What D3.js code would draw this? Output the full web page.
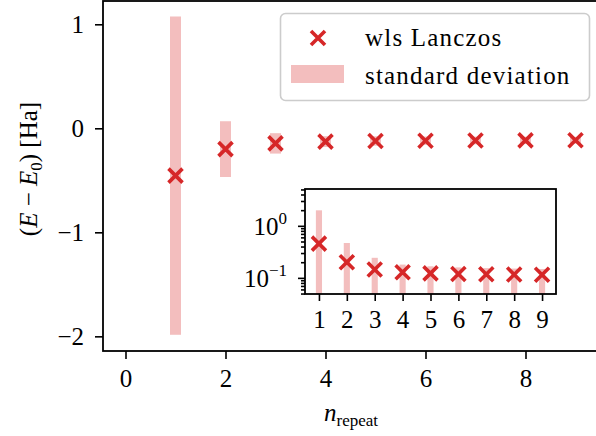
<!DOCTYPE html>
<html>
<head>
<meta charset="utf-8">
<script src="https://cdn.jsdelivr.net/npm/d3@7"></script>
<style>
  body { margin: 0; background: #fff; }
  text { font-family: "Liberation Serif", "DejaVu Serif", serif; fill: #000; }
</style>
</head>
<body>
<div id="chart"></div>
<script>
// values
const nRepeat = [1, 2, 3, 4, 5, 6, 7, 8, 9];
const energy = [-0.455, -0.200, -0.145, -0.128, -0.122, -0.119, -0.117, -0.116, -0.115];
const stdDev = [1.53, 0.268, 0.098, 0.052, 0.045, 0.040, 0.037, 0.035, 0.033];
const xTicks = [0, 2, 4, 6, 8];
const yTicks = [1, 0, -1, -2];
const insetXTicks = [1, 2, 3, 4, 5, 6, 7, 8, 9];
const insetYTicks = [1, 0.1];
const insetYLabels = ["0", "−1"];
const legendLabels = ["wls Lanczos", "standard deviation"];

const red = "#d62728";
const pink = "#f3bebe";
const fontSize = 25;
const markSize = 7;
const markStroke = 3.6;

const data = nRepeat.map((n, i) => ({ n: n, e: energy[i], s: stdDev[i] }));

const svg = d3.select("#chart").append("svg")
    .attr("width", 596)
    .attr("height", 436)
    .attr("viewBox", [0, 0, 596, 436]);

// main axes
const x = d3.scaleLinear().domain([-0.45, 9.45]).range([103, 598]);
const y = d3.scaleLinear().domain([-2.141, 1.224]).range([351, 1]);

const fmt = d => d < 0 ? "\u2212" + Math.abs(d) : String(d);

function styleAxis(g, size) {
  g.select(".domain").remove();
  g.selectAll(".tick line").attr("stroke", "#000").attr("stroke-width", 1.6);
  g.selectAll(".tick text").attr("font-size", size).attr("font-family", null);
}

// bars (mean +/- std)
const barW = 0.22;
svg.append("g")
  .selectAll("rect")
  .data(data)
  .join("rect")
    .attr("x", d => x(d.n - barW / 2))
    .attr("width", d => x(d.n + barW / 2) - x(d.n - barW / 2))
    .attr("y", d => y(d.e + d.s))
    .attr("height", d => y(d.e - d.s) - y(d.e + d.s))
    .attr("fill", pink);

function cross(s) {
  return `M${-s},${-s}L${s},${s}M${-s},${s}L${s},${-s}`;
}

svg.append("g")
  .selectAll("path")
  .data(data)
  .join("path")
    .attr("transform", d => `translate(${x(d.n)},${y(d.e)})`)
    .attr("d", cross(markSize))
    .attr("fill", "none")
    .attr("stroke", red)
    .attr("stroke-width", markStroke);

// axes frame
svg.append("rect")
    .attr("x", 103).attr("y", 1)
    .attr("width", 496).attr("height", 350)
    .attr("fill", "none")
    .attr("stroke", "#000")
    .attr("stroke-width", 1.8);

svg.append("g")
    .attr("transform", "translate(0,351)")
    .call(d3.axisBottom(x).tickValues(xTicks).tickSize(8).tickPadding(10).tickFormat(fmt))
    .call(g => styleAxis(g, fontSize));

svg.append("g")
    .attr("transform", "translate(103,0)")
    .call(d3.axisLeft(y).tickValues(yTicks).tickSize(8).tickPadding(11).tickFormat(fmt))
    .call(g => styleAxis(g, fontSize));

// axis labels
const yl = svg.append("text")
    .attr("transform", "translate(37,169) rotate(-90)")
    .attr("text-anchor", "middle")
    .attr("font-size", fontSize);
yl.append("tspan").text("(");
yl.append("tspan").attr("font-style", "italic").text("E");
yl.append("tspan").text(" \u2212 ");
yl.append("tspan").attr("font-style", "italic").text("E");
yl.append("tspan").attr("font-size", 17).attr("dy", 5).text("0");
yl.append("tspan").attr("dy", -5).text(") [Ha]");

const xl = svg.append("text")
    .attr("x", 351)
    .attr("y", 421)
    .attr("text-anchor", "middle")
    .attr("font-size", fontSize);
xl.append("tspan").attr("font-style", "italic").text("n");
xl.append("tspan").attr("font-size", 17).attr("dy", 5).text("repeat");

// legend
const legend = svg.append("g");
legend.append("rect")
    .attr("x", 280.5).attr("y", 13.5)
    .attr("width", 309).attr("height", 87)
    .attr("rx", 5)
    .attr("fill", "#fff").attr("fill-opacity", 0.8)
    .attr("stroke", "#cccccc").attr("stroke-width", 1.6);
legend.append("path")
    .attr("transform", "translate(318,38)")
    .attr("d", cross(markSize))
    .attr("fill", "none")
    .attr("stroke", red)
    .attr("stroke-width", markStroke);
legend.append("rect")
    .attr("x", 291).attr("y", 65)
    .attr("width", 53).attr("height", 18)
    .attr("fill", pink);
legend.selectAll("text.lab")
  .data(legendLabels)
  .join("text")
    .attr("class", "lab")
    .attr("x", 365)
    .attr("y", (d, i) => 46 + i * 38)
    .attr("font-size", fontSize)
    .attr("letter-spacing", 1.2)
    .text(d => d);

// inset, log scale of -(E - E0)
const xi = d3.scaleLinear().domain([0.5, 9.5]).range([305, 556]);
const yi = d3.scaleLog().domain([0.049, 5.1]).range([294, 189]);

const inset = svg.append("g");
inset.append("clipPath").attr("id", "insetClip")
  .append("rect")
    .attr("x", 305).attr("y", 189)
    .attr("width", 251).attr("height", 105);

inset.append("rect")
    .attr("x", 305).attr("y", 189)
    .attr("width", 251).attr("height", 105)
    .attr("fill", "#fff");

const ip = inset.append("g").attr("clip-path", "url(#insetClip)");

// non-positive lower ends drop to the floor of the log axis
ip.selectAll("rect")
  .data(data)
  .join("rect")
    .attr("x", d => xi(d.n - barW / 2))
    .attr("width", d => xi(d.n + barW / 2) - xi(d.n - barW / 2))
    .attr("y", d => yi(-d.e + d.s))
    .attr("height", d => yi.range()[0] - yi(-d.e + d.s))
    .attr("fill", pink);

ip.selectAll("path")
  .data(data)
  .join("path")
    .attr("transform", d => `translate(${xi(d.n)},${yi(-d.e)})`)
    .attr("d", cross(markSize))
    .attr("fill", "none")
    .attr("stroke", red)
    .attr("stroke-width", markStroke);

inset.append("rect")
    .attr("x", 305).attr("y", 189)
    .attr("width", 251).attr("height", 105)
    .attr("fill", "none")
    .attr("stroke", "#000")
    .attr("stroke-width", 1.8);

inset.append("g")
    .attr("transform", "translate(0,294)")
    .call(d3.axisBottom(xi).tickValues(insetXTicks).tickSize(7).tickPadding(9))
    .call(g => styleAxis(g, fontSize));

const minor = yi.ticks().filter(v => !insetYTicks.includes(v));
inset.append("g")
    .attr("transform", "translate(305,0)")
    .call(d3.axisLeft(yi).tickValues(minor).tickSize(4).tickFormat(""))
    .call(g => styleAxis(g, fontSize));

const yMajor = inset.append("g")
    .attr("transform", "translate(305,0)")
    .call(d3.axisLeft(yi).tickValues(insetYTicks).tickSize(7).tickFormat(""))
    .call(g => styleAxis(g, fontSize));

yMajor.selectAll(".tick").each(function(d, i) {
  const t = d3.select(this).append("text")
      .attr("x", -18)
      .attr("y", 9)
      .attr("text-anchor", "end")
      .attr("font-size", fontSize);
  t.append("tspan").text("10");
  t.append("tspan").attr("font-size", 17).attr("dy", -11).text(insetYLabels[i]);
});
</script>
</body>
</html>
